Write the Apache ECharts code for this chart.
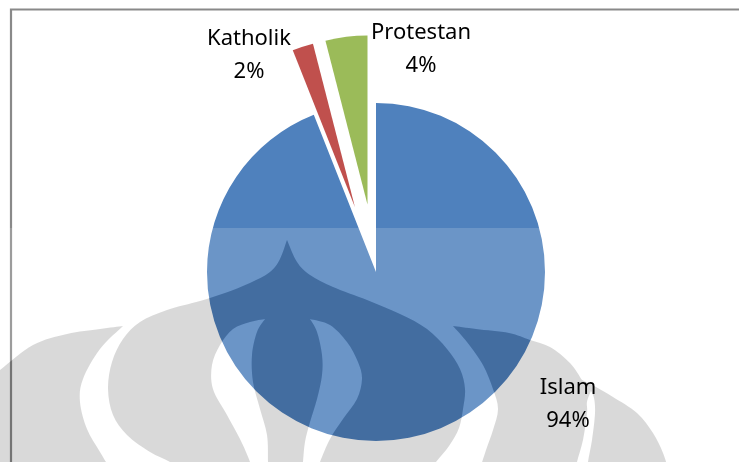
<!DOCTYPE html>
<html>
<head>
<meta charset="utf-8">
<title>Agama</title>
<script src="https://cdn.jsdelivr.net/npm/echarts@6/dist/echarts.min.js"></script>
<style>
  html, body { margin: 0; padding: 0; background: #ffffff; }
  #chart { width: 739px; height: 462px; }
</style>
</head>
<body>
<div id="chart"></div>
<script>
// Religion shares (percent)
const categories = ['Islam', 'Katholik', 'Protestan'];
const shares = [94, 2, 4];
// Slices pulled out of the pie
const exploded = [false, true, true];

const sliceColors = ['#4F81BD', '#C0504D', '#9BBB59'];
const labelFont = 'Noto Sans';
// Label block centres (px)
const labelAnchors = [[568, 404], [249, 55], [421, 49]];

// ---- Watermark (university emblem) outline helpers ----
function fmt(p) { return p[0].toFixed(1) + ' ' + p[1].toFixed(1); }
function smoothSeg(pts) {
  let d = '';
  for (let i = 0; i < pts.length - 1; i++) {
    const p0 = pts[i - 1] || pts[i], p1 = pts[i], p2 = pts[i + 1], p3 = pts[i + 2] || pts[i + 1];
    const c1 = [p1[0] + (p2[0] - p0[0]) / 6, p1[1] + (p2[1] - p0[1]) / 6];
    const c2 = [p2[0] - (p3[0] - p1[0]) / 6, p2[1] - (p3[1] - p1[1]) / 6];
    d += ' C' + fmt(c1) + ' ' + fmt(c2) + ' ' + fmt(p2);
  }
  return d;
}
function shapePath(segs, clockwise) {
  const flat = [].concat(...segs.map(s => s.slice(0, -1)));
  let area = 0;
  for (let i = 0; i < flat.length; i++) {
    const a = flat[i], b = flat[(i + 1) % flat.length];
    area += a[0] * b[1] - b[0] * a[1];
  }
  let s = segs;
  if ((area > 0) !== clockwise) s = segs.slice().reverse().map(seg => seg.slice().reverse());
  let d = 'M' + fmt(s[0][0]);
  s.forEach(seg => { d += smoothSeg(seg); });
  return d + ' Z';
}

const band = [
  [[0, 228], [739, 228]], [[739, 228], [739, 480]], [[739, 480], [0, 480]], [[0, 480], [0, 228]]
];
const wingLeft = [
  [[-20, 385], [0, 370], [33, 345], [67, 334], [100, 329], [123, 326]],
  [[123, 326], [100, 349], [83, 379], [80, 402], [87, 429], [100, 452], [114, 475]],
  [[114, 475], [-20, 475]],
  [[-20, 475], [-20, 385]]
];
const flame = [
  [[287, 240], [297, 262], [310, 275], [333, 287], [367, 300], [400, 314], [427, 329], [447, 349],
   [460, 369], [465, 389], [463, 409], [459, 428], [449, 446], [436, 462], [426, 475]],
  [[426, 475], [188, 475]],
  [[188, 475], [170, 462], [150, 452], [127, 435], [113, 415], [108, 389], [112, 362], [123, 339],
   [140, 322], [167, 310], [200, 301], [225, 293], [250, 283], [270, 272], [280, 259], [287, 240]]
];
const wingRight = [
  [[453, 326], [476, 329], [509, 333], [530, 340], [550, 347], [570, 363], [582, 380]],
  [[582, 380], [596, 387], [613, 397], [637, 413], [653, 433], [663, 453], [670, 475]],
  [[670, 475], [588, 475]],
  [[588, 475], [588, 462], [592, 440], [595, 413], [594, 398], [591, 391]],
  [[591, 391], [587, 402], [587, 413], [583, 440], [577, 462], [575, 475]],
  [[575, 475], [478, 475]],
  [[478, 475], [486, 450], [493, 430], [498, 409], [493, 389], [483, 365], [467, 342], [453, 326]]
];
const lobeLeft = [
  [[265, 319], [257, 332], [252, 355], [253, 382], [260, 409], [267, 435], [268, 462], [268, 475]],
  [[268, 475], [252, 475]],
  [[252, 475], [250, 462], [240, 439], [227, 415], [213, 389], [212, 365], [220, 345], [233, 329],
   [250, 322], [265, 319]]
];
const lobeCentre = [
  [[310, 319], [330, 325], [347, 342], [358, 362], [362, 379], [357, 399], [343, 419], [330, 439],
   [320, 462], [316, 475]],
  [[316, 475], [302, 475]],
  [[302, 475], [303, 462], [305, 442], [310, 422], [317, 399], [322, 375], [322, 355], [317, 332],
   [310, 319]]
];

const solids = [wingLeft, flame, wingRight];
const holes = [lobeLeft, lobeCentre];
const emblemPath = solids.map(s => shapePath(s, true)).join(' ') + ' ' +
  holes.map(s => shapePath(s, false)).join(' ');
const bandPath = shapePath(band, true) + ' ' +
  solids.map(s => shapePath(s, false)).join(' ') + ' ' +
  holes.map(s => shapePath(s, true)).join(' ');

const chart = echarts.init(document.getElementById('chart'), null, { renderer: 'canvas' });

chart.setOption({
  animation: false,
  backgroundColor: '#ffffff',
  graphic: [
    {
      type: 'rect', z: 0, silent: true,
      shape: { x: 11, y: 9.5, width: 800, height: 500 },
      style: { fill: 'none', stroke: '#898989', lineWidth: 2.2 }
    }
  ],
  series: [
    {
      type: 'pie',
      z: 2,
      center: [376, 272],
      radius: 169,
      startAngle: 90,
      clockwise: true,
      selectedMode: 'multiple',
      selectedOffset: 68,
      emphasis: { disabled: true },
      itemStyle: { borderWidth: 0 },
      label: { show: false },
      labelLine: { show: false },
      data: categories.map((name, i) => ({
        name: name,
        value: shares[i],
        selected: exploded[i],
        itemStyle: { color: sliceColors[i] },
        select: { itemStyle: { color: sliceColors[i], borderWidth: 0 } }
      }))
    },
    {
      // faint emblem laid over the lower part of the chart
      type: 'custom',
      coordinateSystem: 'none',
      z: 5,
      silent: true,
      data: [0],
      renderItem: function () {
        return {
          type: 'group',
          children: [
            { type: 'path', shape: { pathData: bandPath }, style: { fill: 'rgba(255,255,255,0.16)' } },
            { type: 'path', shape: { pathData: emblemPath }, style: { fill: 'rgba(0,0,0,0.15)' } }
          ]
        };
      }
    },
    {
      // slice labels: name and percentage
      type: 'custom',
      coordinateSystem: 'none',
      z: 10,
      silent: true,
      data: categories.map((name, i) => i),
      renderItem: function (params) {
        const i = params.dataIndex;
        const p = labelAnchors[i];
        return {
          type: 'text',
          x: p[0],
          y: p[1],
          style: {
            text: categories[i] + '\n' + shares[i] + '%',
            fill: '#000000',
            fontFamily: labelFont,
            fontSize: 22,
            lineHeight: 33,
            align: 'center',
            verticalAlign: 'middle'
          }
        };
      }
    }
  ]
});
</script>
</body>
</html>
